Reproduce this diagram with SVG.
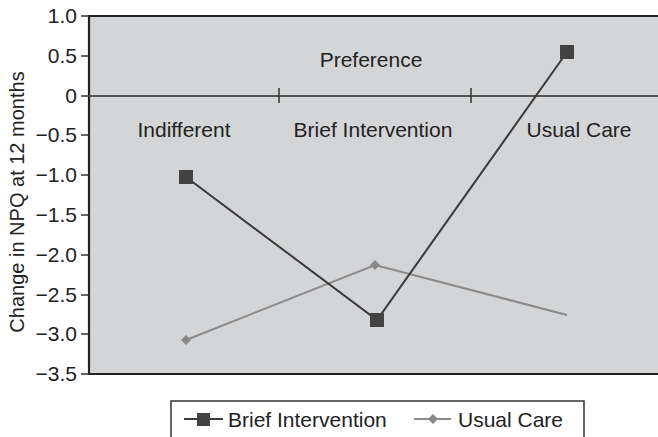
<svg xmlns="http://www.w3.org/2000/svg" width="658" height="437" viewBox="0 0 658 437">
<style>
text{font-family:"Liberation Sans",Arial,sans-serif;font-size:21px;fill:#222}
.yl{text-anchor:end;font-size:21px}
.c{text-anchor:middle}
.ttl{font-size:20px}
.bi{stroke:#3a3a3a;stroke-width:2;fill:none}
.uc{stroke:#8a8a8a;stroke-width:2;fill:none}
.tk{stroke:#333;stroke-width:1.5}
</style>
<defs>
<rect id="sq" x="-7" y="-7" width="14" height="14" fill="#424242"/>
<path id="dm" d="M0,-5 L5,0 L0,5 L-5,0Z" fill="#888"/>
</defs>
<rect width="658" height="437" fill="#fff"/>
<g id="plot">
<rect x="89" y="16" width="575" height="358" fill="#d4d5d7"/>
<path d="M662,16 H89 V374 H662" fill="none" stroke="#222" stroke-width="2.2"/>
<line x1="89" y1="96" x2="658" y2="96" stroke="#555" stroke-width="2"/>
<line class="tk" x1="279" y1="88" x2="279" y2="103"/>
<line class="tk" x1="471" y1="88" x2="471" y2="103"/>
</g>
<g id="yaxis">
<g class="tk">
<line x1="81" y1="16" x2="89" y2="16"/><line x1="81" y1="56" x2="89" y2="56"/>
<line x1="81" y1="96" x2="89" y2="96"/><line x1="81" y1="135" x2="89" y2="135"/>
<line x1="81" y1="175" x2="89" y2="175"/><line x1="81" y1="215" x2="89" y2="215"/>
<line x1="81" y1="255" x2="89" y2="255"/><line x1="81" y1="295" x2="89" y2="295"/>
<line x1="81" y1="334" x2="89" y2="334"/><line x1="81" y1="374" x2="89" y2="374"/>
</g>
<text class="yl" x="77" y="23">1.0</text>
<text class="yl" x="77" y="63">0.5</text>
<text class="yl" x="77" y="103">0</text>
<text class="yl" x="77" y="142">−0.5</text>
<text class="yl" x="77" y="182">−1.0</text>
<text class="yl" x="77" y="222">−1.5</text>
<text class="yl" x="77" y="262">−2.0</text>
<text class="yl" x="77" y="302">−2.5</text>
<text class="yl" x="77" y="341">−3.0</text>
<text class="yl" x="77" y="381">−3.5</text>
<text class="c ttl" transform="translate(24,202) rotate(-90)">Change in NPQ at 12 months</text>
</g>
<g id="labels">
<text class="c" x="371" y="67">Preference</text>
<text class="c" x="184" y="137">Indifferent</text>
<text class="c" x="373" y="137">Brief Intervention</text>
<text class="c" x="579" y="137">Usual Care</text>
</g>
<g id="connectors">
<polyline class="uc" points="186,340 375,265 567,315"/>
<polyline class="bi" points="186,177 377,320 567,52"/>
</g>
<g id="series-usual-care">
<use href="#dm" x="186" y="340"/><use href="#dm" x="375" y="265"/>
</g>
<g id="series-brief-intervention">
<use href="#sq" x="186" y="177"/><use href="#sq" x="377" y="320"/><use href="#sq" x="567" y="52"/>
</g>
<g id="legend">
<rect x="171" y="401" width="413" height="45" fill="#fff" stroke="#333" stroke-width="1.5"/>
<line x1="184" y1="419" x2="223" y2="419" stroke="#3a3a3a" stroke-width="2"/>
<rect x="197" y="413" width="13" height="13" fill="#424242"/>
<text x="228" y="427">Brief Intervention</text>
<line x1="414" y1="419" x2="451" y2="419" stroke="#8a8a8a" stroke-width="2"/>
<use href="#dm" x="433" y="419"/>
<text x="458" y="427">Usual Care</text>
</g>
</svg>
